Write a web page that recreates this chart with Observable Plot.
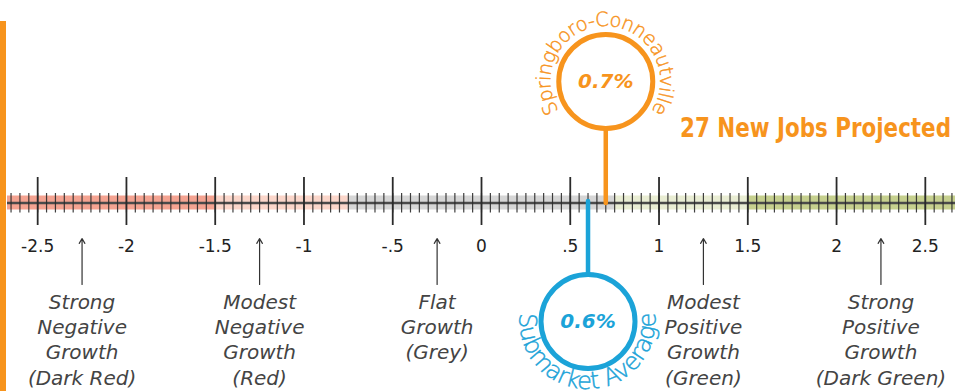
<!DOCTYPE html>
<html><head><meta charset="utf-8">
<script src="https://cdn.jsdelivr.net/npm/d3@7"></script>
<script src="https://cdn.jsdelivr.net/npm/@observablehq/plot@0.6"></script>
<style>html,body{margin:0;padding:0;background:#fff;overflow:hidden}</style>
</head><body><div id="chart"></div>
<script>
// ---- data ----
const zoneStarts = [-2.67, -1.5, -0.75, 0.75, 1.5];
const zoneEnds = [-1.5, -0.75, 0.75, 1.5, 2.67];
const zoneColors = ["#f4a391", "#fbd6ca", "#d6d6d6", "#e9edd3", "#c6d08e"];
const majorTicks = [-2.5, -2, -1.5, -1, -0.5, 0, 0.5, 1, 1.5, 2, 2.5];
const tickLabels = ["-2.5", "-2", "-1.5", "-1", "-.5", "0", ".5", "1", "1.5", "2", "2.5"];
const categoryPositions = [-2.25, -1.25, -0.25, 1.25, 2.25];
const categoryLabels = [
  "Strong\nNegative\nGrowth\n(Dark Red)",
  "Modest\nNegative\nGrowth\n(Red)",
  "Flat\nGrowth\n(Grey)",
  "Modest\nPositive\nGrowth\n(Green)",
  "Strong\nPositive\nGrowth\n(Dark Green)"
];
const pinNames = ["Springboro-Conneautville", "Submarket Average"];
const pinValues = [0.7, 0.6];
const pinLabels = ["0.7%", "0.6%"];
const pinColors = ["#f7941d", "#1ba3d8"];
const headline = "27 New Jobs Projected";

// ---- layout (pixels on a 0..391 y scale) ----
const L = {
  bandTop: 195.5, bandBottom: 209.5, axisY: 202.5,
  majorTop: 177, majorBottom: 225, minorTop: 193, minorBottom: 212.5,
  tickLabelY: 246, arrowBottom: 284, arrowTop: 238, catY: 290,
  pins: [
    {cy: 81, y1: 128, y2: 203, side: "top", textR: 55, font: 19.5, spacing: -0.5},
    {cy: 321, y1: 201, y2: 273, side: "bottom", textR: 68, font: 24, spacing: -0.4}
  ]
};

const zones = zoneStarts.map((s, i) => ({x1: s, x2: zoneEnds[i], fill: zoneColors[i]}));
const ticks = majorTicks.map((v, i) => ({x: v, label: tickLabels[i]}));
const minorTicks = d3.range(-53, 54).map(i => i / 20);
const cats = categoryPositions.map((v, i) => ({x: v, label: categoryLabels[i]}));
const pins = pinNames.map((n, i) => ({name: n, value: pinValues[i], label: pinLabels[i], color: pinColors[i], ...L.pins[i]}));

function decorations(index, scales) {
  const g = d3.create("svg:g");
  g.append("rect").attr("x", 0).attr("y", 21).attr("width", 6).attr("height", 370).attr("fill", pinColors[0]);
  pins.forEach((p, i) => {
    const cx = scales.x(p.value), cy = scales.y(p.cy), R = p.textR;
    const d = p.side === "top"
      ? `M${cx},${cy + R} A${R},${R} 0 0 1 ${cx},${cy - R} A${R},${R} 0 0 1 ${cx},${cy + R}`
      : `M${cx},${cy - R} A${R},${R} 0 0 0 ${cx},${cy + R} A${R},${R} 0 0 0 ${cx},${cy - R}`;
    const id = "arc" + i;
    g.append("path").attr("id", id).attr("d", d).attr("fill", "none");
    g.append("text")
      .attr("fill", p.color)
      .attr("stroke", p.color)
      .attr("stroke-width", 0.45)
      .attr("font-size", p.font)
      .attr("font-family", "DejaVu Sans")
      .attr("font-weight", 300)
      .attr("letter-spacing", p.spacing)
      .append("textPath")
      .attr("href", "#" + id)
      .attr("startOffset", "50%")
      .attr("text-anchor", "middle")
      .text(p.name);
  });
  g.append("text")
    .attr("x", 680).attr("y", scales.y(137))
    .attr("text-anchor", "start")
    .attr("fill", pinColors[0])
    .attr("font-family", "DejaVu Sans")
    .attr("font-weight", "bold")
    .attr("font-stretch", "condensed")
    .attr("font-size", 26)
    .attr("textLength", 271)
    .attr("lengthAdjust", "spacingAndGlyphs")
    .text(headline);
  return g.node();
}

const chart = Plot.plot({
  width: 955, height: 391,
  marginLeft: 7, marginRight: 0, marginTop: 0, marginBottom: 0,
  style: {fontFamily: "DejaVu Sans", background: "#fff"},
  x: {domain: [-2.67, 2.67], axis: null},
  y: {domain: [0, 391], range: [0, 391], axis: null},
  marks: [
    Plot.rect(zones, {x1: "x1", x2: "x2", y1: L.bandTop, y2: L.bandBottom, fill: "fill"}),
    Plot.ruleY([L.axisY], {stroke: "#4a4a4a", strokeWidth: 2.5}),
    Plot.ruleX(minorTicks, {x: d => d, y1: L.minorTop, y2: L.minorBottom, stroke: "#2a2a2a", strokeWidth: 1.2, strokeOpacity: 0.9}),
    Plot.ruleX(ticks, {x: "x", y1: L.majorTop, y2: L.majorBottom, stroke: "#2a2a2a", strokeWidth: 1.8}),
    Plot.text(ticks, {x: "x", y: L.tickLabelY, text: "label", fontSize: 17, fill: "#222"}),
    Plot.arrow(cats, {x1: "x", x2: "x", y1: L.arrowBottom, y2: L.arrowTop, stroke: "#333", strokeWidth: 1.2, headLength: 7}),
    Plot.text(cats, {x: "x", y: L.catY, text: "label", lineAnchor: "top", lineHeight: 1.27, fontSize: 20, fontStyle: "italic", fill: "#444"}),
    Plot.ruleX(pins, {x: "value", y1: "y1", y2: "y2", stroke: "color", strokeWidth: 4.5, strokeLinecap: "round"}),
    Plot.dot(pins, {x: "value", y: "cy", r: 47, fill: "white", stroke: "color", strokeWidth: 5}),
    Plot.text(pins, {x: "value", y: "cy", text: "label", fill: "color", fontSize: 20, fontWeight: "bold", fontStyle: "italic"}),
    decorations
  ]
});
document.getElementById("chart").appendChild(chart);
</script>
</body></html>
